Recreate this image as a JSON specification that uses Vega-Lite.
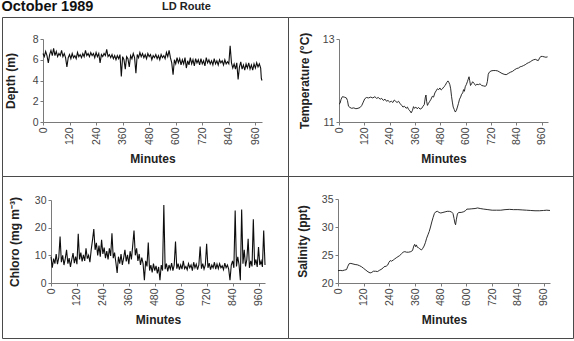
{
  "$schema": "https://vega.github.io/schema/vega-lite/v6.json",
  "background": "white",
  "padding": {"left": 1, "top": -1, "right": 2, "bottom": 3},
  "title": {
    "text": "October 1989",
    "anchor": "start",
    "font": "Liberation Sans",
    "fontSize": 14.5,
    "fontWeight": "bold",
    "color": "#111111",
    "baseline": "alphabetic",
    "offset": -25
  },
  "datasets": {
    "depth": [
      {"m":0,"v":6.6},{"m":6,"v":6.3},{"m":12,"v":6.8},{"m":18,"v":6.4},{"m":24,"v":5.7},{"m":30,"v":6.5},{"m":36,"v":6.9},{"m":42,"v":6.4},{"m":48,"v":7.1},{"m":54,"v":6.4},
      {"m":60,"v":6.8},{"m":66,"v":6.3},{"m":72,"v":6.6},{"m":78,"v":6.4},{"m":84,"v":6.9},{"m":90,"v":6.3},{"m":96,"v":6.6},{"m":102,"v":6.2},{"m":108,"v":5.3},{"m":114,"v":6.2},
      {"m":120,"v":6.5},{"m":126,"v":6.1},{"m":132,"v":6.6},{"m":138,"v":6.2},{"m":144,"v":6.4},{"m":150,"v":6.1},{"m":156,"v":6.7},{"m":162,"v":6.3},{"m":168,"v":6.5},{"m":174,"v":6.2},
      {"m":180,"v":6.6},{"m":186,"v":6.3},{"m":192,"v":6.9},{"m":198,"v":6.4},{"m":204,"v":6.6},{"m":210,"v":6.3},{"m":216,"v":6.7},{"m":222,"v":6.4},{"m":228,"v":6.6},{"m":234,"v":6.2},
      {"m":240,"v":6.7},{"m":246,"v":6.3},{"m":252,"v":6.6},{"m":258,"v":5.7},{"m":264,"v":6.5},{"m":270,"v":6.3},{"m":276,"v":6.6},{"m":282,"v":6.4},{"m":288,"v":7.0},{"m":294,"v":6.3},
      {"m":300,"v":6.5},{"m":306,"v":6.2},{"m":312,"v":6.5},{"m":318,"v":6.1},{"m":324,"v":6.4},{"m":330,"v":6.0},{"m":336,"v":6.4},{"m":342,"v":6.1},{"m":348,"v":6.5},{"m":354,"v":4.4},
      {"m":360,"v":6.3},{"m":366,"v":6.0},{"m":372,"v":5.1},{"m":378,"v":6.3},{"m":384,"v":6.1},{"m":390,"v":5.3},{"m":396,"v":6.4},{"m":402,"v":6.1},{"m":408,"v":6.6},{"m":414,"v":6.2},
      {"m":420,"v":4.7},{"m":426,"v":6.5},{"m":432,"v":6.2},{"m":438,"v":6.7},{"m":444,"v":6.3},{"m":450,"v":6.6},{"m":456,"v":6.2},{"m":462,"v":6.5},{"m":468,"v":6.1},{"m":474,"v":6.6},
      {"m":480,"v":6.3},{"m":486,"v":6.5},{"m":492,"v":6.0},{"m":498,"v":6.4},{"m":504,"v":6.2},{"m":510,"v":6.5},{"m":516,"v":6.1},{"m":522,"v":6.4},{"m":528,"v":6.0},{"m":534,"v":6.5},
      {"m":540,"v":6.2},{"m":546,"v":6.4},{"m":552,"v":6.1},{"m":558,"v":6.7},{"m":564,"v":6.3},{"m":570,"v":6.9},{"m":576,"v":6.2},{"m":582,"v":5.7},{"m":588,"v":4.55},{"m":594,"v":6.0},
      {"m":600,"v":5.6},{"m":606,"v":6.2},{"m":612,"v":5.7},{"m":618,"v":6.1},{"m":624,"v":5.5},{"m":630,"v":6.0},{"m":636,"v":5.6},{"m":642,"v":6.2},{"m":648,"v":5.2},{"m":654,"v":5.9},
      {"m":660,"v":5.5},{"m":666,"v":6.2},{"m":672,"v":5.6},{"m":678,"v":6.0},{"m":684,"v":5.4},{"m":690,"v":6.1},{"m":696,"v":5.7},{"m":702,"v":6.0},{"m":708,"v":5.5},{"m":714,"v":6.1},
      {"m":720,"v":5.6},{"m":726,"v":5.9},{"m":732,"v":5.4},{"m":738,"v":6.2},{"m":744,"v":5.7},{"m":750,"v":6.0},{"m":756,"v":5.6},{"m":762,"v":5.9},{"m":768,"v":5.5},{"m":774,"v":6.1},
      {"m":780,"v":5.6},{"m":786,"v":5.9},{"m":792,"v":5.5},{"m":798,"v":6.0},{"m":804,"v":5.7},{"m":810,"v":5.9},{"m":816,"v":5.5},{"m":822,"v":6.0},{"m":828,"v":5.6},{"m":834,"v":5.8},
      {"m":840,"v":5.6},{"m":846,"v":7.35},{"m":852,"v":5.7},{"m":858,"v":5.2},{"m":864,"v":5.6},{"m":870,"v":5.1},{"m":876,"v":5.7},{"m":882,"v":4.1},{"m":888,"v":5.3},{"m":894,"v":5.8},
      {"m":900,"v":5.1},{"m":906,"v":5.5},{"m":912,"v":5.0},{"m":918,"v":5.6},{"m":924,"v":5.2},{"m":930,"v":5.7},{"m":936,"v":5.1},{"m":942,"v":5.5},{"m":948,"v":5.0},{"m":954,"v":5.6},
      {"m":960,"v":5.2},{"m":966,"v":5.7},{"m":972,"v":5.3},{"m":978,"v":5.6},{"m":984,"v":5.2},{"m":987,"v":4.2},{"m":990,"v":4.0}
    ],
    "temp": [
      {"m":0,"v":11.43},{"m":5,"v":11.45},{"m":10,"v":11.55},{"m":16,"v":11.61},{"m":25,"v":11.6},{"m":35,"v":11.58},{"m":40,"v":11.52},{"m":45,"v":11.38},{"m":52,"v":11.35},{"m":60,"v":11.33},
      {"m":70,"v":11.34},{"m":80,"v":11.32},{"m":90,"v":11.33},{"m":100,"v":11.35},{"m":108,"v":11.4},{"m":115,"v":11.48},{"m":122,"v":11.56},{"m":130,"v":11.59},{"m":140,"v":11.58},{"m":150,"v":11.6},
      {"m":160,"v":11.58},{"m":170,"v":11.61},{"m":178,"v":11.57},{"m":186,"v":11.59},{"m":195,"v":11.55},{"m":202,"v":11.57},{"m":210,"v":11.52},{"m":218,"v":11.55},{"m":225,"v":11.5},{"m":232,"v":11.52},
      {"m":240,"v":11.48},{"m":248,"v":11.5},{"m":255,"v":11.47},{"m":262,"v":11.53},{"m":268,"v":11.5},{"m":275,"v":11.47},{"m":282,"v":11.5},{"m":290,"v":11.44},{"m":297,"v":11.4},{"m":303,"v":11.36},
      {"m":310,"v":11.38},{"m":318,"v":11.33},{"m":324,"v":11.36},{"m":330,"v":11.3},{"m":336,"v":11.27},{"m":342,"v":11.22},{"m":348,"v":11.28},{"m":353,"v":11.37},{"m":358,"v":11.33},{"m":364,"v":11.36},
      {"m":370,"v":11.32},{"m":377,"v":11.35},{"m":384,"v":11.31},{"m":392,"v":11.33},{"m":398,"v":11.38},{"m":404,"v":11.42},{"m":409,"v":11.6},{"m":412,"v":11.65},{"m":415,"v":11.5},{"m":419,"v":11.4},
      {"m":424,"v":11.45},{"m":430,"v":11.5},{"m":436,"v":11.55},{"m":442,"v":11.62},{"m":448,"v":11.6},{"m":454,"v":11.7},{"m":460,"v":11.75},{"m":466,"v":11.8},{"m":472,"v":11.78},{"m":478,"v":11.82},
      {"m":484,"v":11.77},{"m":490,"v":11.8},{"m":497,"v":11.85},{"m":503,"v":11.88},{"m":510,"v":11.95},{"m":516,"v":11.99},{"m":520,"v":11.96},{"m":525,"v":11.9},{"m":529,"v":11.8},{"m":533,"v":11.62},
      {"m":537,"v":11.48},{"m":541,"v":11.36},{"m":546,"v":11.3},{"m":551,"v":11.24},{"m":556,"v":11.28},{"m":561,"v":11.36},{"m":566,"v":11.45},{"m":571,"v":11.55},{"m":576,"v":11.6},{"m":581,"v":11.67},
      {"m":586,"v":11.7},{"m":590,"v":11.78},{"m":594,"v":11.74},{"m":598,"v":11.85},{"m":603,"v":11.9},{"m":608,"v":11.97},{"m":612,"v":12.03},{"m":616,"v":12.09},{"m":619,"v":12.0},{"m":623,"v":11.88},
      {"m":628,"v":11.92},{"m":633,"v":11.97},{"m":640,"v":11.93},{"m":647,"v":11.88},{"m":653,"v":11.91},{"m":660,"v":11.9},{"m":668,"v":11.92},{"m":676,"v":11.88},{"m":684,"v":11.87},{"m":692,"v":11.86},
      {"m":698,"v":11.88},{"m":703,"v":11.98},{"m":707,"v":12.15},{"m":712,"v":12.2},{"m":720,"v":12.23},{"m":730,"v":12.24},{"m":742,"v":12.24},{"m":752,"v":12.23},{"m":762,"v":12.2},{"m":772,"v":12.17},
      {"m":782,"v":12.15},{"m":792,"v":12.14},{"m":802,"v":12.17},{"m":812,"v":12.2},{"m":822,"v":12.22},{"m":832,"v":12.26},{"m":842,"v":12.29},{"m":850,"v":12.3},{"m":858,"v":12.33},{"m":866,"v":12.34},
      {"m":874,"v":12.36},{"m":882,"v":12.38},{"m":890,"v":12.41},{"m":898,"v":12.43},{"m":906,"v":12.45},{"m":914,"v":12.48},{"m":922,"v":12.5},{"m":930,"v":12.51},{"m":938,"v":12.49},{"m":944,"v":12.48},
      {"m":950,"v":12.54},{"m":956,"v":12.58},{"m":964,"v":12.58},{"m":972,"v":12.57},{"m":980,"v":12.56},{"m":988,"v":12.57}
    ],
    "chl": [
      {"m":0,"v":9.5},{"m":6,"v":5.5},{"m":12,"v":8.8},{"m":18,"v":7.0},{"m":24,"v":10.5},{"m":30,"v":6.8},{"m":36,"v":9.2},{"m":42,"v":16.8},{"m":48,"v":7.5},{"m":54,"v":10.0},
      {"m":60,"v":6.5},{"m":66,"v":8.8},{"m":72,"v":12.0},{"m":78,"v":7.0},{"m":84,"v":9.0},{"m":90,"v":5.8},{"m":96,"v":8.5},{"m":102,"v":10.8},{"m":108,"v":7.2},{"m":114,"v":9.5},
      {"m":120,"v":6.8},{"m":126,"v":17.8},{"m":132,"v":8.5},{"m":138,"v":11.0},{"m":144,"v":7.8},{"m":150,"v":10.2},{"m":156,"v":8.0},{"m":162,"v":12.5},{"m":168,"v":8.8},{"m":174,"v":10.0},
      {"m":180,"v":7.5},{"m":186,"v":12.0},{"m":192,"v":15.5},{"m":198,"v":19.5},{"m":204,"v":12.0},{"m":210,"v":14.5},{"m":216,"v":10.0},{"m":222,"v":13.5},{"m":228,"v":9.5},{"m":234,"v":15.6},
      {"m":240,"v":10.5},{"m":246,"v":12.8},{"m":252,"v":9.0},{"m":258,"v":11.5},{"m":264,"v":8.5},{"m":270,"v":12.5},{"m":276,"v":9.8},{"m":282,"v":18.0},{"m":288,"v":9.0},{"m":294,"v":11.0},
      {"m":300,"v":7.5},{"m":306,"v":3.6},{"m":312,"v":9.5},{"m":318,"v":7.0},{"m":324,"v":10.5},{"m":330,"v":6.5},{"m":336,"v":9.0},{"m":342,"v":12.0},{"m":348,"v":7.8},{"m":354,"v":10.2},
      {"m":360,"v":6.8},{"m":366,"v":11.5},{"m":372,"v":8.5},{"m":378,"v":13.5},{"m":384,"v":19.0},{"m":390,"v":10.0},{"m":396,"v":12.5},{"m":402,"v":8.0},{"m":408,"v":10.5},{"m":414,"v":6.5},
      {"m":420,"v":9.2},{"m":426,"v":7.0},{"m":432,"v":1.0},{"m":438,"v":8.0},{"m":444,"v":6.0},{"m":450,"v":14.6},{"m":456,"v":4.5},{"m":462,"v":6.5},{"m":468,"v":3.8},{"m":474,"v":7.0},
      {"m":480,"v":4.5},{"m":486,"v":6.2},{"m":492,"v":3.5},{"m":498,"v":5.8},{"m":504,"v":1.0},{"m":510,"v":6.5},{"m":516,"v":4.5},{"m":522,"v":28.2},{"m":528,"v":5.0},{"m":534,"v":7.0},
      {"m":540,"v":4.2},{"m":546,"v":6.5},{"m":552,"v":5.0},{"m":558,"v":7.2},{"m":564,"v":4.5},{"m":570,"v":6.5},{"m":576,"v":15.0},{"m":582,"v":5.2},{"m":588,"v":7.0},{"m":594,"v":4.8},
      {"m":600,"v":6.5},{"m":606,"v":5.0},{"m":612,"v":8.0},{"m":618,"v":5.2},{"m":624,"v":6.0},{"m":630,"v":4.8},{"m":636,"v":7.0},{"m":642,"v":5.5},{"m":648,"v":6.5},{"m":654,"v":4.5},
      {"m":660,"v":7.5},{"m":666,"v":5.5},{"m":672,"v":6.8},{"m":678,"v":4.8},{"m":684,"v":6.5},{"m":690,"v":13.2},{"m":696,"v":5.2},{"m":702,"v":7.0},{"m":708,"v":5.0},{"m":714,"v":6.5},
      {"m":720,"v":14.2},{"m":726,"v":5.5},{"m":732,"v":7.2},{"m":738,"v":4.8},{"m":744,"v":6.5},{"m":750,"v":5.5},{"m":756,"v":7.5},{"m":762,"v":5.0},{"m":768,"v":6.8},{"m":774,"v":5.2},
      {"m":780,"v":7.0},{"m":786,"v":5.5},{"m":792,"v":6.2},{"m":798,"v":4.8},{"m":804,"v":7.2},{"m":810,"v":5.5},{"m":816,"v":6.5},{"m":822,"v":5.0},{"m":828,"v":1.0},{"m":834,"v":6.5},
      {"m":840,"v":8.0},{"m":846,"v":5.5},{"m":852,"v":26.2},{"m":858,"v":6.0},{"m":864,"v":9.5},{"m":870,"v":6.5},{"m":876,"v":1.0},{"m":882,"v":26.6},{"m":888,"v":7.0},{"m":894,"v":12.0},
      {"m":900,"v":6.0},{"m":906,"v":8.5},{"m":912,"v":16.0},{"m":918,"v":5.5},{"m":924,"v":8.0},{"m":930,"v":6.0},{"m":936,"v":23.0},{"m":942,"v":6.5},{"m":948,"v":8.5},{"m":954,"v":5.8},
      {"m":960,"v":13.0},{"m":966,"v":6.5},{"m":972,"v":8.0},{"m":978,"v":5.8},{"m":984,"v":19.0},{"m":990,"v":6.5}
    ],
    "sal": [
      {"m":0,"v":22.2},{"m":10,"v":22.25},{"m":20,"v":22.2},{"m":30,"v":22.3},{"m":40,"v":22.4},{"m":46,"v":23.0},{"m":52,"v":23.45},{"m":60,"v":23.5},{"m":70,"v":23.4},{"m":80,"v":23.3},
      {"m":90,"v":23.25},{"m":100,"v":23.1},{"m":110,"v":22.9},{"m":120,"v":22.6},{"m":130,"v":22.3},{"m":140,"v":22.0},{"m":150,"v":21.8},{"m":158,"v":21.9},{"m":165,"v":22.1},{"m":175,"v":22.1},
      {"m":185,"v":22.05},{"m":195,"v":22.3},{"m":205,"v":22.5},{"m":215,"v":22.9},{"m":225,"v":23.0},{"m":232,"v":23.2},{"m":238,"v":23.7},{"m":244,"v":24.0},{"m":250,"v":23.9},{"m":258,"v":24.1},
      {"m":265,"v":24.3},{"m":272,"v":24.5},{"m":280,"v":24.7},{"m":288,"v":24.9},{"m":296,"v":25.2},{"m":304,"v":25.5},{"m":312,"v":25.6},{"m":320,"v":25.5},{"m":330,"v":25.5},{"m":340,"v":25.6},
      {"m":348,"v":25.8},{"m":354,"v":26.6},{"m":358,"v":26.9},{"m":362,"v":26.5},{"m":366,"v":26.8},{"m":370,"v":26.4},{"m":376,"v":26.3},{"m":382,"v":26.1},{"m":390,"v":25.9},{"m":396,"v":26.2},
      {"m":402,"v":26.6},{"m":408,"v":27.2},{"m":414,"v":28.0},{"m":420,"v":28.6},{"m":426,"v":29.2},{"m":432,"v":30.0},{"m":438,"v":30.9},{"m":444,"v":31.7},{"m":450,"v":32.4},{"m":456,"v":32.7},
      {"m":464,"v":32.8},{"m":472,"v":32.6},{"m":480,"v":32.5},{"m":490,"v":32.6},{"m":500,"v":32.7},{"m":510,"v":32.8},{"m":520,"v":32.8},{"m":530,"v":32.7},{"m":537,"v":32.4},{"m":542,"v":31.5},
      {"m":546,"v":30.7},{"m":549,"v":30.4},{"m":553,"v":31.4},{"m":558,"v":32.4},{"m":565,"v":32.6},{"m":575,"v":32.6},{"m":585,"v":32.7},{"m":595,"v":32.9},{"m":602,"v":33.2},{"m":612,"v":33.2},
      {"m":625,"v":33.25},{"m":640,"v":33.3},{"m":652,"v":33.4},{"m":664,"v":33.3},{"m":680,"v":33.2},{"m":700,"v":33.1},{"m":720,"v":33.0},{"m":740,"v":33.0},{"m":760,"v":33.0},{"m":780,"v":33.1},
      {"m":800,"v":33.15},{"m":820,"v":33.1},{"m":840,"v":33.1},{"m":860,"v":33.05},{"m":880,"v":33.0},{"m":900,"v":32.95},{"m":920,"v":32.9},{"m":940,"v":32.9},{"m":960,"v":32.95},{"m":975,"v":33.0},
      {"m":990,"v":32.95}
    ]
  },
  "columns": 2,
  "spacing": 0,
  "bounds": "flush",
  "concat": [
    {
      "width": 286,
      "height": 159,
      "title": {
        "text": "LD Route",
        "anchor": "start",
        "dx": 160,
        "font": "Liberation Sans",
        "fontSize": 11,
        "fontWeight": "bold",
        "color": "#222222",
        "baseline": "alphabetic",
        "offset": -4
      },
      "data": {"name": "depth"},
      "mark": {"type": "line", "color": "#0d0d0d", "strokeWidth": 1.1},
      "encoding": {
        "x": {"field": "m", "type": "quantitative",
          "scale": {"domain": [0, 990], "range": [41, 260], "nice": false, "zero": false},
          "axis": {"title": "Minutes", "values": [0,120,240,360,480,600,720,840,960], "offset": -54}},
        "y": {"field": "v", "type": "quantitative",
          "scale": {"domain": [0, 8], "range": [105, 22], "nice": false},
          "axis": {"title": "Depth (m)", "values": [0,2,4,6,8], "offset": -41, "titlePadding": 15}}
      }
    },
    {
      "width": 285,
      "height": 159,
      "data": {"name": "temp"},
      "mark": {"type": "line", "color": "#161616", "strokeWidth": 0.9},
      "encoding": {
        "x": {"field": "m", "type": "quantitative",
          "scale": {"domain": [0, 990], "range": [51, 260], "nice": false, "zero": false},
          "axis": {"title": "Minutes", "values": [0,120,240,360,480,600,720,840,960], "offset": -54}},
        "y": {"field": "v", "type": "quantitative",
          "scale": {"domain": [11, 13], "range": [105, 22], "nice": false, "zero": false},
          "axis": {"title": "Temperature (°C)", "values": [11,12,13], "format": "d", "offset": -51, "titlePadding": 11}}
      }
    },
    {
      "width": 286,
      "height": 162,
      "data": {"name": "chl"},
      "mark": {"type": "line", "color": "#0d0d0d", "strokeWidth": 1.1},
      "encoding": {
        "x": {"field": "m", "type": "quantitative",
          "scale": {"domain": [0, 990], "range": [49, 263], "nice": false, "zero": false},
          "axis": {"title": "Minutes", "values": [0,120,240,360,480,600,720,840,960], "offset": -55}},
        "y": {"field": "v", "type": "quantitative",
          "scale": {"domain": [0, 30], "range": [107, 24], "nice": false},
          "axis": {"title": "Chloro (mg m⁻³)", "values": [0,10,20,30], "offset": -49, "titlePadding": 13}}
      }
    },
    {
      "width": 285,
      "height": 162,
      "data": {"name": "sal"},
      "mark": {"type": "line", "color": "#161616", "strokeWidth": 0.9},
      "encoding": {
        "x": {"field": "m", "type": "quantitative",
          "scale": {"domain": [0, 990], "range": [50, 262], "nice": false, "zero": false},
          "axis": {"title": "Minutes", "values": [0,120,240,360,480,600,720,840,960], "offset": -55}},
        "y": {"field": "v", "type": "quantitative",
          "scale": {"domain": [20, 35], "range": [107, 23], "nice": false, "zero": false},
          "axis": {"title": "Salinity (ppt)", "values": [20,25,30,35], "offset": -50, "titlePadding": 12}}
      }
    }
  ],
  "config": {
    "view": {"stroke": "#4a4a4a", "strokeWidth": 1},
    "axis": {
      "grid": false,
      "domainColor": "#7a7a7a",
      "tickColor": "#7a7a7a",
      "tickSize": 3,
      "labelColor": "#444444",
      "labelFont": "Liberation Sans Narrow, Arial Narrow, Liberation Sans",
      "labelFontSize": 10.5,
      "labelPadding": 2,
      "titleFont": "Liberation Sans",
      "titleFontSize": 12,
      "titleFontWeight": "bold",
      "titleColor": "#222222"
    },
    "axisX": {"labelAngle": 270, "titlePadding": 9},
    "axisY": {"labelPadding": 2}
  }
}
